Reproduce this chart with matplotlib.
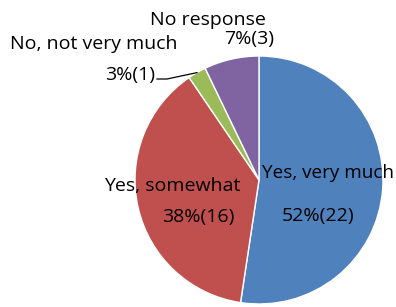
import matplotlib
matplotlib.use("Agg")
import matplotlib.pyplot as plt
import numpy as np

categories = ["Yes, very much", "Yes, somewhat", "No, not very much", "No response"]
counts = [22, 16, 1, 3]
percents = [52, 38, 3, 7]
colors = ["#4F81BD", "#C0504D", "#9BBB59", "#8064A2"]

W, H = 396, 307
plt.rcParams['font.family'] = ['Open Sans', 'DejaVu Sans']
fig = plt.figure(figsize=(W / 100, H / 100), dpi=100)
ax = fig.add_axes([0, 0, 1, 1])

cx, cy, r = 259, H - 180, 124
wedges, _ = ax.pie(counts, colors=colors, startangle=90, counterclock=False,
                   center=(cx, cy), radius=r, frame=True,
                   wedgeprops=dict(edgecolor='white', linewidth=1))
ax.set_xlim(0, W)
ax.set_ylim(0, H)
ax.axis('off')

fs = 14.0
# (x, baseline y from top, ha) in pixels
name_pos = [(394, 178, 'right'), (172, 191, 'center'), (94, 49, 'center'), (208, 25, 'center')]
pct_pos = [(318, 221), (198, 222), (130, 80), (249, 44)]
for i, cat in enumerate(categories):
    nx, ny, nha = name_pos[i]
    px, py = pct_pos[i]
    ax.text(nx, H - ny, cat, ha=nha, va='baseline', fontsize=fs if i else 13.6, color='black')
    ax.text(px, H - py, f"{percents[i]}%({counts[i]})", ha='center', va='baseline',
            fontsize=fs, color='black')

# leader line for small slice
w = wedges[2]
mid = np.deg2rad((w.theta1 + w.theta2) / 2)
ex, ey = cx + r * np.cos(mid), cy + r * np.sin(mid)
ax.plot([157, 167, ex], [H - 79, H - 79, ey], color='black', linewidth=0.9)

fig.savefig("out.png", dpi=100, facecolor='white')
